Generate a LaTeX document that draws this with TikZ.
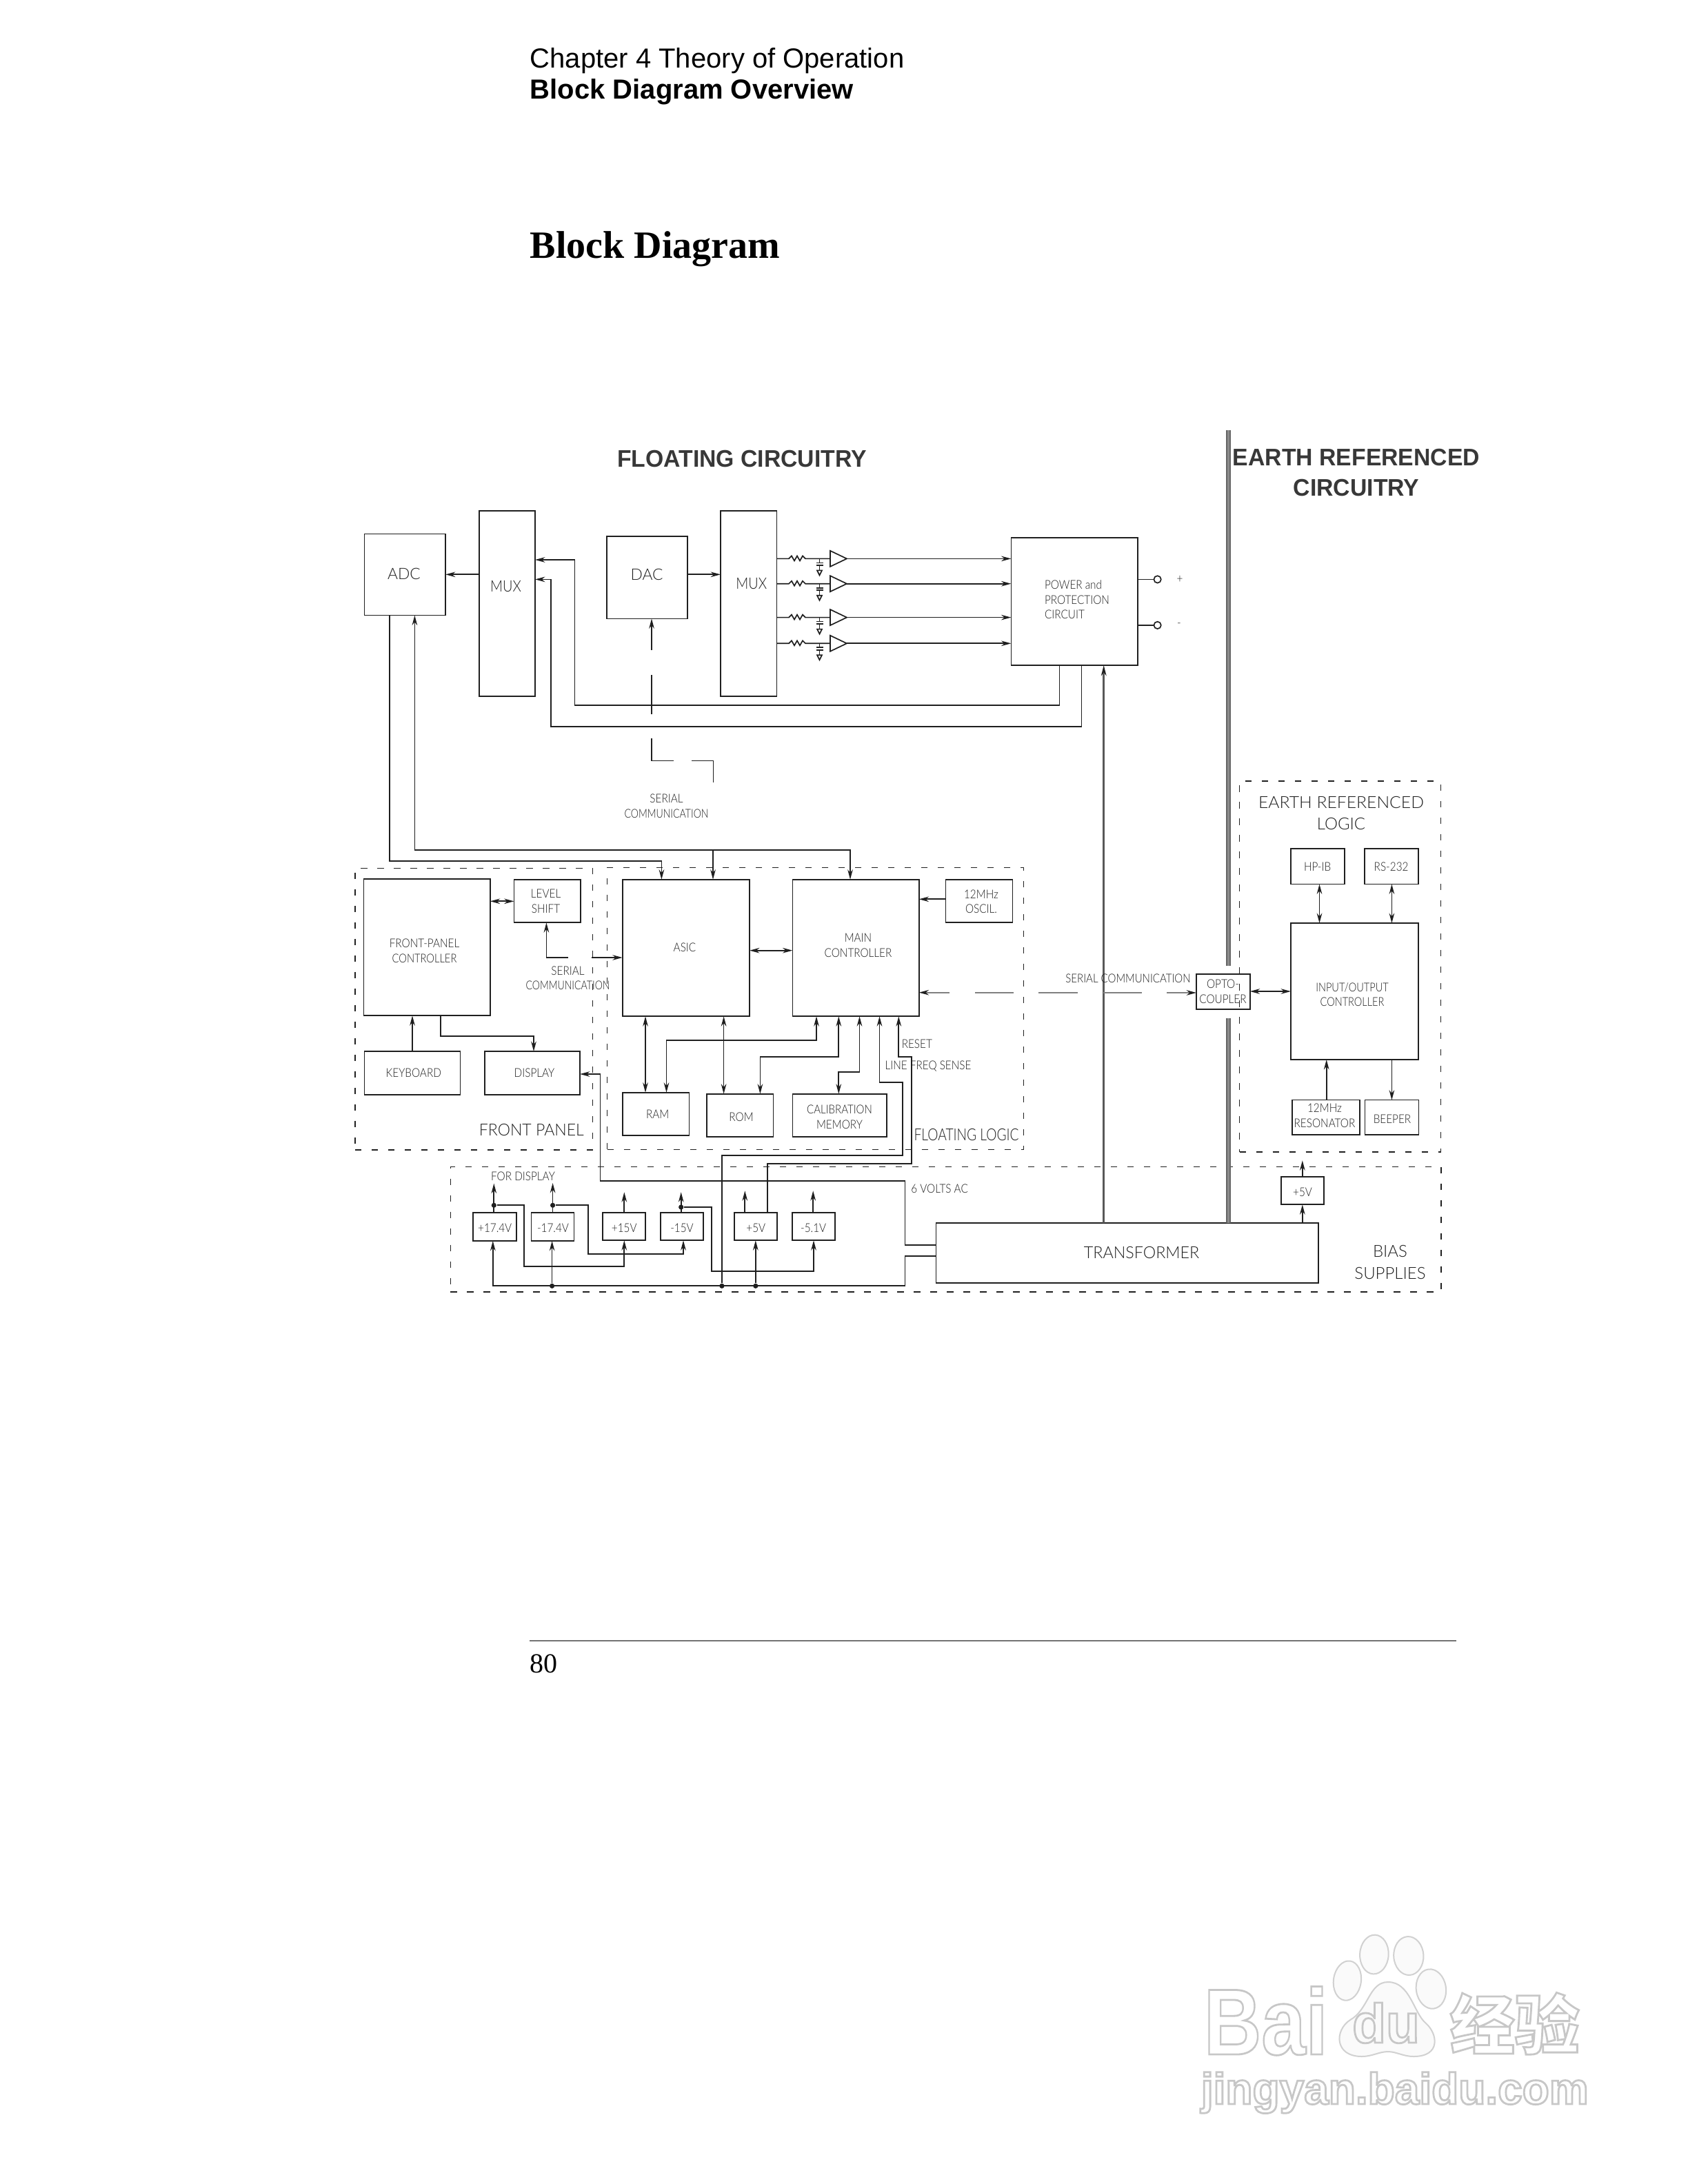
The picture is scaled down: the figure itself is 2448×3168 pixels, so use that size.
\documentclass[tikz,border=0pt]{standalone}
\usepackage{fontspec}
\usetikzlibrary{arrows.meta}
\setmainfont{Liberation Serif}
\newfontfamily\cad{Lato Light}
\newfontfamily\cads{Lato Light}[FakeStretch=0.87]
\newfontfamily\hdr{Liberation Sans}
\newfontfamily\tit{Liberation Sans}[FakeStretch=0.97]
\newfontfamily\cjk{Noto Sans CJK SC}
\definecolor{ink}{gray}{0.12}
\definecolor{wm}{gray}{0.97}
\newcommand{\fa}{\cads\fontsize{4.4}{5.4}\selectfont}
\newcommand{\fb}{\cad\fontsize{5.7}{6.5}\selectfont}
\newcommand{\fc}{\cad\fontsize{6.0}{7.9}\selectfont}
\newcommand{\ft}{\tit\bfseries\fontsize{8.7}{11}\selectfont}
\newcommand{\nar}[2]{\scalebox{#1}[1]{#2}}
\newcommand{\outl}[1]{\special{pdf:code 1 Tr 0.7 w 0.78 0.78 0.78 RG}#1\special{pdf:code 0 Tr}}
\newcommand{\bx}[5]{\node[blk,minimum width={(#4-#2)*0.25pt},minimum height={(#5-#3)*0.25pt}] (#1) at ({(#2+#4)/2},{(#3+#5)/2}) {};}
\newcommand{\bd}[5]{\node[dbox,minimum width={(#4-#2)*0.25pt},minimum height={(#5-#3)*0.25pt}] (#1) at ({(#2+#4)/2},{(#3+#5)/2}) {};}
\newcommand{\tx}[5]{\node[lbl,font=#4] (#1) at (#2,#3) {#5};}
\tikzset{
 blk/.style={draw=ink,line width=0.42pt,inner sep=0,outer sep=0,rectangle},
 dbox/.style={draw=ink,line width=0.4pt,dash pattern=on 2.3pt off 3.7pt,inner sep=0,outer sep=0,rectangle},
 lbl/.style={inner sep=0,outer sep=0,align=center,text=ink},
 dotn/.style={circle,fill=ink,inner sep=0,minimum size=1.8pt},
 wire/.style={draw=ink,line width=0.42pt},
 arr/.style={wire,-{Stealth[length=3.6pt,width=1.9pt,fill=gray]}},
 dbl/.style={wire,{Stealth[length=3.6pt,width=1.9pt,fill=gray]}-{Stealth[length=3.6pt,width=1.9pt,fill=gray]}},
 gwire/.style={draw=black!50,line width=0.42pt},
 garr/.style={gwire,-{Stealth[length=3.6pt,width=1.9pt,fill=gray,color=ink]}},
 bar/.style={draw=black!60,line width=0.42pt,double=black!45,double distance=0.75pt},
 rail/.style={draw=black!65,line width=0.75pt},
 toe/.style={draw=black!18,line width=0.5pt,fill=black!2},
}
\begin{document}
\begin{tikzpicture}[x=0.25pt,y=-0.25pt]
\useasboundingbox (0,0) rectangle (2448,3168);
\fill[white] (0,0) rectangle (2448,3168);
% page furniture
\node[anchor=base west,inner sep=0,font=\hdr\fontsize{10}{12}\selectfont] (chap) at (768,99) {Chapter 4 Theory of Operation};
\node[anchor=base west,inner sep=0,font=\hdr\bfseries\fontsize{10}{12}\selectfont] (sect) at (768,144) {Block Diagram Overview};
\node[anchor=base west,inner sep=0,font=\bfseries\fontsize{14}{16}\selectfont] (head) at (768,374) {Block Diagram};
\coordinate (ruleL) at (768,2380); \coordinate (ruleR) at (2112,2380);
\draw[draw=black!55,line width=0.4pt] (ruleL) -- (ruleR);
\node[anchor=base west,inner sep=0,font=\fontsize{10}{12}\selectfont] (pageno) at (768,2426) {80};
% dashed regions
\bd{fp}{515}{1259.3}{859.4}{1668}
\bd{fl}{880.6}{1258.3}{1484.5}{1667.3}
\bd{el}{1797.6}{1133}{2089.4}{1671}
\bd{bs}{653.3}{1692.3}{2090}{1873.7}
% titles
\node[lbl,font=\ft,text=black!78] (tfc) at (1076,666) {FLOATING CIRCUITRY};
\node[lbl,font=\ft,text=black!78] (tec) at (1967,686) {EARTH REFERENCED\\CIRCUITRY};
% isolation bar
\coordinate (bartop) at (1781.5,623.7); \coordinate (barmid) at (1781.5,1401); \coordinate (barlow) at (1781.5,1477);
% blocks
\bx{adc}{528.5}{774.4}{646}{892.6}
\bx{mux1}{695}{741}{776}{1009.7}
\bx{dac}{880}{778}{997}{897.4}
\bx{mux2}{1045}{741}{1126.4}{1009.7}
\bx{power}{1466.4}{780.3}{1650}{965}
\bx{fpc}{527.6}{1275}{710.8}{1473.3}
\bx{ls}{745.5}{1275.7}{842}{1338.3}
\bx{kbd}{528.4}{1525}{667.6}{1587.7}
\bx{disp}{703}{1525}{841}{1587.7}
\bx{asic}{902.7}{1275.7}{1087}{1474.3}
\bx{main}{1149.4}{1275.7}{1332.7}{1474.3}
\bx{osc}{1371.4}{1275.7}{1468.6}{1338.3}
\bx{ram}{902.7}{1584.7}{999.4}{1647.3}
\bx{rom}{1024.7}{1586.7}{1121.4}{1649.3}
\bx{cal}{1149.4}{1586.7}{1285.7}{1649.3}
\bx{opto}{1735}{1413}{1812.7}{1464}
\bx{hpib}{1872}{1231}{1950}{1282.5}
\bx{rs}{1979}{1231}{2057}{1282.5}
\bx{io}{1872}{1339}{2057}{1537}
\bx{res}{1874}{1595.6}{1972}{1646}
\bx{beep}{1979.6}{1595.6}{2057.6}{1646}
\bx{pa}{685.7}{1759.3}{749.2}{1800}
\bx{pb}{770.6}{1759.3}{832.6}{1800}
\bx{pc}{873.8}{1759.3}{935.9}{1799.3}
\bx{pd}{957.7}{1759.3}{1019.7}{1799.3}
\bx{pe}{1064.8}{1759.3}{1126.9}{1799.3}
\bx{pf}{1148.7}{1759.3}{1211.2}{1799.3}
\bx{pg}{1858}{1706.7}{1920}{1747.3}
\bx{trafo}{1357.4}{1774}{1911.8}{1861}
% bar and rail
\draw[bar] (bartop) -- (barmid);
\draw[bar] (barlow) -- (trafo.north -| barlow);
\draw[rail,-{Stealth[length=3.8pt,width=1.9pt,fill=gray,color=ink]}] (trafo.north -| 1600.7,0) -- (power.south -| 1600.7,0);
% block labels
\tx{t1}{586}{832}{\fb}{ADC}
\tx{t2}{733.6}{851}{\fb}{\nar{0.87}{MUX}}
\tx{t3}{938}{833}{\fb}{DAC}
\tx{t4}{1089.7}{847}{\fb}{\nar{0.87}{MUX}}
\node[lbl,font=\fa,anchor=west,align=left] (t5) at (1515,870) {POWER and\\PROTECTION\\CIRCUIT};
\tx{t6}{1711}{840}{\fa}{+}
\tx{t7}{1710}{906.5}{\fa}{-}
\tx{t8}{966.5}{1169}{\fa}{SERIAL\\\nar{0.92}{COMMUNICATION}}
\tx{t9}{1945}{1179.5}{\fc}{\nar{1.03}{EARTH REFERENCED}\\LOGIC}
\tx{t10}{615.5}{1379}{\fa}{FRONT-PANEL\\\nar{0.96}{CONTROLLER}}
\tx{t11}{791.6}{1307.3}{\fa}{LEVEL\\SHIFT}
\tx{t12}{823.5}{1418.6}{\fa}{SERIAL\\\nar{0.92}{COMMUNICATION}}
\tx{t13}{599.8}{1556.7}{\fa}{KEYBOARD}
\tx{t14}{775}{1556.7}{\fa}{DISPLAY}
\tx{t15}{770.8}{1639.3}{\fc}{\nar{0.96}{FRONT PANEL}}
\tx{t16}{993}{1374.3}{\fa}{ASIC}
\tx{t17}{1244.5}{1371.6}{\fa}{MAIN\\CONTROLLER}
\tx{t18}{1423}{1307.8}{\fa}{12MHz\\OSCIL.}
\tx{t19}{953.7}{1616}{\fa}{RAM}
\tx{t20}{1075}{1620}{\fa}{ROM}
\tx{t21}{1217.5}{1620.5}{\fa}{\nar{0.98}{CALIBRATION}\\MEMORY}
\tx{t22}{1401.6}{1646}{\fc}{\nar{0.8}{FLOATING LOGIC}}
\node[lbl,font=\fa,anchor=west] (t23) at (1307.8,1514.7) {RESET};
\tx{t24}{1346}{1546.3}{\fa}{LINE FREQ SENSE}
\tx{t25}{1636}{1419.6}{\fa}{\nar{0.98}{SERIAL COMMUNICATION}}
\tx{t26}{1773.5}{1438.5}{\fa}{OPTO-\\COUPLER}
\tx{t27}{1961}{1442.5}{\fa}{\nar{0.95}{INPUT/OUTPUT}\\\nar{0.95}{CONTROLLER}}
\tx{t28}{1910.6}{1257}{\fa}{HP-IB}
\tx{t29}{2017.6}{1257}{\fa}{RS-232}
\tx{t30}{1921}{1618.5}{\fa}{12MHz\\RESONATOR}
\tx{t31}{2019}{1622.8}{\fa}{BEEPER}
\tx{t32}{717.7}{1781}{\fa}{+17.4V}
\tx{t33}{802}{1781}{\fa}{-17.4V}
\tx{t34}{905.3}{1781}{\fa}{+15V}
\tx{t35}{989}{1781}{\fa}{-15V}
\tx{t36}{1096.3}{1781}{\fa}{+5V}
\tx{t37}{1179.7}{1781}{\fa}{-5.1V}
\tx{t38}{1889}{1729.3}{\fa}{+5V}
\tx{t39}{1655.5}{1817}{\fc}{\nar{0.97}{TRANSFORMER}}
\tx{t40}{2016}{1831}{\fc}{BIAS\\SUPPLIES}
\tx{t41}{1362.6}{1724}{\fa}{6 VOLTS AC}
\tx{t42}{758.5}{1706.7}{\fa}{FOR DISPLAY}
% analog channels
\foreach \i/\y in {1/810.4,2/846.7,3/895.6,4/933.3}{
 \coordinate (rin\i) at (1144,\y);
 \coordinate (amp\i) at (1228,\y);
 \draw[wire] (mux2.east |- rin\i) -- (rin\i) -- ++(4,-4) -- ++(4,7) -- ++(4,-7) -- ++(4,7) -- ++(4,-7) -- ++(4,4) -- (1204,\y);
 \draw[wire,line join=miter] (1204,\y-11.5) -- (1204,\y+11.5) -- (amp\i) -- cycle;
 \draw[wire] (1188.5,\y) -- (1188.5,\y+6) (1183.5,\y+6) -- (1193.5,\y+6) (1183.5,\y+9.5) -- (1193.5,\y+9.5) (1188.5,\y+9.5) -- (1188.5,\y+17);
 \draw[wire] (1185,\y+17) -- (1192,\y+17) -- (1188.5,\y+24) -- cycle;
 \draw[arr] (amp\i) -- (power.west |- amp\i);
}
% power outputs
\node[circle,draw=ink,line width=0.42pt,inner sep=0,minimum size=2.6pt] (op) at (1678.6,840.4) {};
\node[circle,draw=ink,line width=0.42pt,inner sep=0,minimum size=2.6pt] (om) at (1678.6,906.9) {};
\draw[wire] (power.east |- op) -- (op);
\draw[wire] (power.east |- om) -- (om);
% top connectors
\draw[arr] (mux1.west |- 0,833.3) -- (adc.east |- 0,833.3);
\draw[arr] (dac.east |- 0,833.3) -- (mux2.west |- 0,833.3);
\draw[arr] (power.south -| 1536.4,0) -- (1536.4,1023) -- (833.6,1023) -- (833.6,812) -- (mux1.east |- 0,812);
\draw[arr] (power.south -| 1568.6,0) -- (1568.6,1054.3) -- (799,1054.3) -- (799,840.4) -- (mux1.east |- 0,840.4);
\draw[arr] (adc.south -| 565,0) -- (565,1248.7) -- (959.4,1248.7) -- (asic.north -| 959.4,0);
\draw[dbl] (adc.south -| 601.4,0) -- (601.4,1233.3) -- (1233,1233.3) -- (main.north -| 1233,0);
\draw[arr] (1034,1233.3) -- (asic.north -| 1034,0);
% dashed serial to DAC
\coordinate (sa) at (945,943); \coordinate (sb) at (945,979); \coordinate (sc) at (945,1035.7);
\coordinate (sd) at (945,1070.5); \coordinate (se) at (977,1103.4); \coordinate (sf) at (1003,1103.4); \coordinate (sg) at (1034.6,1134.6);
\draw[arr] (sa) -- (dac.south -| sa);
\draw[wire] (sb) -- (sc);
\draw[wire] (sd) -- (945,1103.4) -- (se);
\draw[wire] (sf) -- (1034.6,1103.4) -- (sg);
% front panel
\draw[dbl] (fpc.east |- 0,1307.3) -- (ls.west |- 0,1307.3);
\coordinate (la) at (824,1389); \coordinate (lb) at (858,1389);
\draw[arr] (la) -- (792.4,1389) -- (ls.south -| 792.4,0);
\draw[arr] (lb) -- (asic.west |- lb);
\draw[arr] (kbd.north -| 598,0) -- (fpc.south -| 598,0);
\draw[arr] (fpc.south -| 639,0) -- (639,1503.3) -- (774,1503.3) -- (disp.north -| 774,0);
% floating logic
\draw[dbl] (asic.east |- 0,1378.7) -- (main.west |- 0,1378.7);
\draw[arr] (osc.west |- 0,1304.3) -- (main.east |- 0,1304.3);
\draw[dbl] (asic.south -| 936,0) -- (ram.north -| 936,0);
\draw[dbl] (asic.south -| 1049.6,0) -- (rom.north -| 1049.6,0);
\draw[dbl] (main.south -| 1184,0) -- (1184,1509.3) -- (966.5,1509.3) -- (ram.north -| 966.5,0);
\draw[dbl] (main.south -| 1216.3,0) -- (1216.3,1533) -- (1102.4,1533) -- (rom.north -| 1102.4,0);
\draw[dbl] (main.south -| 1246.5,0) -- (1246.5,1555) -- (1216.3,1555) -- (cal.north -| 1216.3,0);
% serial link
\coordinate (ma) at (1377,1439.7); \coordinate (mb) at (1414,1439.7); \coordinate (mc) at (1470,1439.7);
\coordinate (md) at (1506,1440); \coordinate (me) at (1563,1440); \coordinate (mf) at (1600,1440); \coordinate (mg) at (1656,1440); \coordinate (mh) at (1692,1440);
\draw[garr] (ma) -- (main.east |- ma);
\draw[gwire] (mb) -- (mc);
\draw[gwire] (md) -- (me);
\draw[gwire] (mf) -- (mg);
\draw[garr] (mh) -- (opto.west |- mh);
% earth logic
\draw[dbl] (opto.east |- 0,1438) -- (io.west |- 0,1438);
\draw[dbl] (hpib.south -| 1913.5,0) -- (io.north -| 1913.5,0);
\draw[dbl] (rs.south -| 2018.4,0) -- (io.north -| 2018.4,0);
\draw[arr] (res.north -| 1923.7,0) -- (io.south -| 1923.7,0);
\draw[arr] (io.south -| 2018.4,0) -- (beep.north -| 2018.4,0);
% bias supply dots
\node[dotn] (d1) at (716.3,1748.3) {};
\node[dotn] (d2) at (801.6,1748.3) {};
\node[dotn] (d3) at (987.7,1751) {};
\node[dotn] (d4) at (800.6,1865.3) {};
\node[dotn] (d5) at (1046.9,1865.3) {};
\node[dotn] (d6) at (1095.8,1865.3) {};
% supply outputs
\coordinate (ua) at (716.3,1716.7); \coordinate (ub) at (801.6,1716); \coordinate (uc) at (905.3,1729.3);
\coordinate (ud) at (987.7,1729.3); \coordinate (ue) at (1080.3,1727.3); \coordinate (uf) at (1179.2,1727.3); \coordinate (ug) at (1888.8,1683.3);
\draw[arr] (pa.north -| ua) -- (ua);
\draw[arr] (pb.north -| ub) -- (ub);
\draw[arr] (pc.north -| uc) -- (uc);
\draw[arr] (pd.north -| ud) -- (ud);
\draw[arr] (pe.north -| ue) -- (ue);
\draw[arr] (pf.north -| uf) -- (uf);
\draw[arr] (pg.north -| ug) -- (ug);
\draw[arr] (trafo.north -| ug) -- (pg.south -| ug);
% supply inputs
\draw[arr] (d1) -- (760,1748.3) -- (760,1837.3) -- (905.3,1837.3) -- (pc.south -| 905.3,0);
\draw[arr] (d2) -- (853,1748.3) -- (853,1819) -- (991,1819) -- (pd.south -| 991,0);
\draw[arr] (d3) -- (1032.3,1751) -- (1032.3,1844) -- (1180,1844) -- (pf.south -| 1180,0);
\draw[arr] (trafo.west |- 0,1822.3) -- (1312.5,1822.3) -- (1312.5,1865.3) -- (714.8,1865.3) -- (pa.south -| 714.8,0);
\draw[arr] (d4) -- (pb.south -| d4);
\draw[arr] (d6) -- (pe.south -| d6);
% long feedback lines
\draw[arr] (d5) -- (1046.9,1675.7) -- (1309,1675.7) -- (1309,1569.7) -- (1275.5,1569.7) -- (main.south -| 1275.5,0);
\draw[arr] (pe.north -| 1112.8,0) -- (1112.8,1688) -- (1322,1688) -- (1322,1533) -- (1303.3,1533) -- (main.south -| 1303.3,0);
\draw[arr] (trafo.west |- 0,1806.3) -- (1312.5,1806.3) -- (1312.5,1713.3) -- (870.4,1713.3) -- (870.4,1558) -- (disp.east |- 0,1558);
% watermark
\node[anchor=base west,inner sep=0,text=wm,font=\hdr\bfseries\fontsize{34}{36}\selectfont] (wa) at (1745,2980) {\outl{\scalebox{0.85}[1]{Bai}}};
\draw[toe,rotate around={-8:(1953.9,2873)}] (1953.9,2873) ellipse [x radius=5pt,y radius=7.2pt];
\draw[toe,rotate around={-3:(1992.9,2835)}] (1992.9,2835) ellipse [x radius=5.2pt,y radius=7.1pt];
\draw[toe,rotate around={3:(2042.8,2837)}] (2042.8,2837) ellipse [x radius=5.4pt,y radius=7pt];
\draw[toe,rotate around={8:(2075.4,2885)}] (2075.4,2885) ellipse [x radius=5.4pt,y radius=7.2pt];
\draw[toe] (2013,2875) .. controls (2045,2875) and (2050,2920) .. (2068,2935) .. controls (2085,2950) and (2090,2983) .. (2050,2983) .. controls (2035,2983) and (2025,2976) .. (2013,2976) .. controls (2000,2976) and (1990,2983) .. (1975,2983) .. controls (1935,2983) and (1935,2945) .. (1958,2930) .. controls (1985,2915) and (1985,2875) .. (2013,2875);
\node[anchor=base,inner sep=0,text=wm,font=\hdr\bfseries\fontsize{20}{22}\selectfont] (wb) at (2010,2963) {\outl{du}};
\node[anchor=base west,inner sep=0,text=wm,font=\cjk\bfseries\fontsize{23.5}{26}\selectfont] (wc) at (2102,2972) {\outl{经验}};
\node[anchor=base west,inner sep=0,text=wm,font=\hdr\bfseries\fontsize{16}{18}\selectfont] (wd) at (1741,3052) {\outl{jingyan.baidu.com}};
\end{tikzpicture}
\end{document}
